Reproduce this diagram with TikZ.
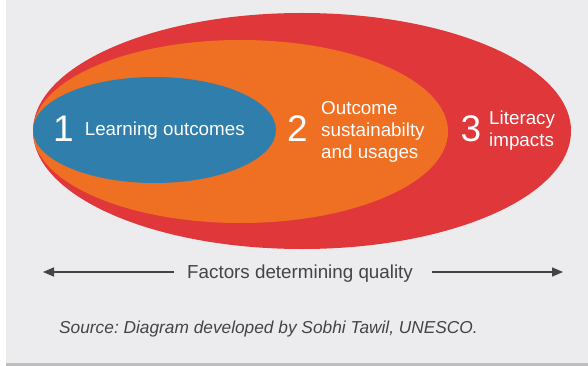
\documentclass[tikz,border=0pt]{standalone}
\usepackage{fontspec}
\setmainfont{Liberation Sans}
\usetikzlibrary{shapes.geometric,arrows.meta}
\frenchspacing
\definecolor{bgc}{HTML}{ECECEE}
\definecolor{redc}{HTML}{E0373A}
\definecolor{orangec}{HTML}{EF7023}
\definecolor{bluec}{HTML}{2F7EAB}
\definecolor{txtc}{HTML}{444444}
\definecolor{linec}{HTML}{BEBEBE}
\begin{document}
\begin{tikzpicture}[x=1pt,y=-1pt,
  blob/.style={ellipse,inner sep=0pt,draw=none},
  bignum/.style={anchor=base west,inner sep=0pt,text=white,font=\fontsize{37}{37}\selectfont},
  lbl/.style={anchor=base west,inner sep=0pt,text=white,align=left,font=\fontsize{18.8}{22}\selectfont},
  axis/.style={draw=txtc,line width=1.3pt,-{Triangle[length=11pt,width=9pt]}}]
\useasboundingbox (0,0) rectangle (588,366);
\fill[bgc] (6,0) rectangle (588,363);
\fill[linec] (6,363) rectangle (588,366);
\node[blob,fill=redc,minimum width=538pt,minimum height=236pt] (outer) at (302,131) {};
\node[blob,fill=orangec,minimum width=415pt,minimum height=183pt] (middle) at (240.5,131.5) {};
\node[blob,fill=bluec,minimum width=243pt,minimum height=106pt] (inner) at (154.5,130) {};
\node[bignum] (n1) at (53,141.5) {1};
\node[lbl] (t1) at (84.6,136) {Learning outcomes};
\node[bignum] (n2) at (287,142) {2};
\node[lbl] (t2) at (321,158.3) {Outcome\\sustainabilty\\and usages};
\node[bignum] (n3) at (460.5,142) {3};
\node[lbl] (t3) at (489,146.5) {Literacy\\impacts};
\node[anchor=base west,inner sep=0pt,text=txtc,font=\fontsize{18.8}{22}\selectfont] (axislbl) at (187,278) {Factors determining quality};
\coordinate (ltip) at (43,272);
\coordinate (rtip) at (563,272);
\coordinate (lstart) at (174,272);
\coordinate (rstart) at (432,272);
\draw[axis] (lstart) -- (ltip);
\draw[axis] (rstart) -- (rtip);
\node[anchor=base west,inner sep=0pt,text=txtc,font=\fontsize{17.3}{20}\selectfont\itshape] (src) at (59,333) {Source: Diagram developed by Sobhi Tawil, UNESCO.};
\end{tikzpicture}
\end{document}
